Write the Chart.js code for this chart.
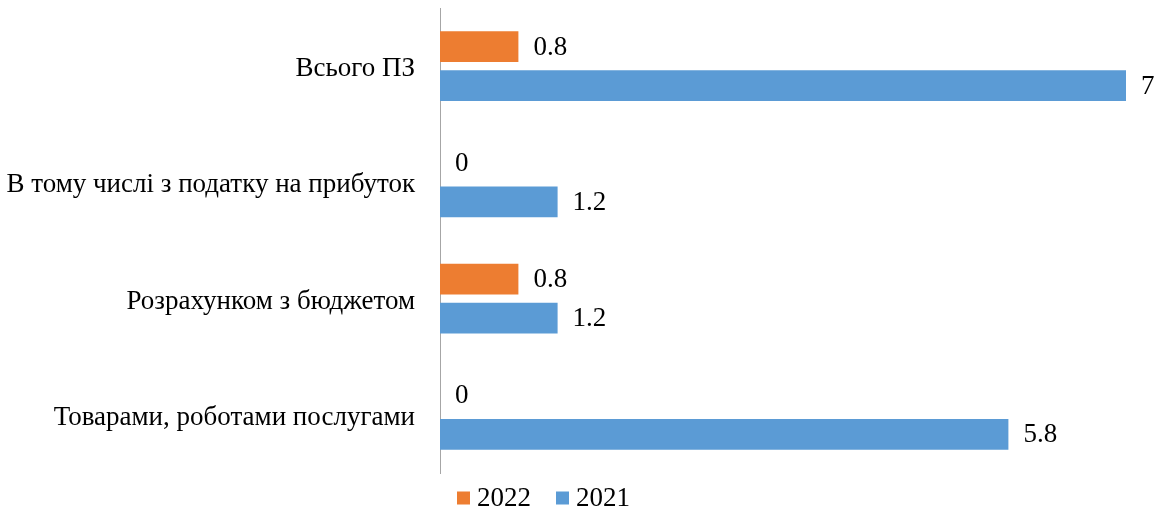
<!DOCTYPE html>
<html>
<head>
<meta charset="utf-8">
<script src="https://cdn.jsdelivr.net/npm/chart.js@4.4.0/dist/chart.umd.min.js"></script>
<style>
    html, body { margin: 0; padding: 0; background: #fff; }
    #wrap { width: 1164px; height: 515px; }
</style>
</head>
<body>
<div id="wrap"><canvas id="debtChart" width="1164" height="515"></canvas></div>
<script>
// Категорії та значення
const categories = [
    'Всього ПЗ',
    'В тому числі з податку на прибуток',
    'Розрахунком з бюджетом',
    'Товарами, роботами послугами'
];
const values2022 = [0.8, 0, 0.8, 0];
const values2021 = [7, 1.2, 1.2, 5.8];
const seriesLabels = ['2022', '2021'];

const FONT = "'Liberation Serif', 'Times New Roman', serif";
const FONT_SIZE = 27;

// підписи значень праворуч від смуг
const valueLabels = {
    id: 'valueLabels',
    afterDatasetsDraw(chart) {
        const ctx = chart.ctx;
        ctx.save();
        ctx.font = FONT_SIZE + 'px ' + FONT;
        ctx.fillStyle = '#000';
        ctx.textAlign = 'left';
        ctx.textBaseline = 'middle';
        chart.data.datasets.forEach((ds, i) => {
            chart.getDatasetMeta(i).data.forEach((bar, j) => {
                const x = chart.scales.x.getPixelForValue(ds.data[j]);
                ctx.fillText(String(ds.data[j]), x + 15, bar.y + 1);
            });
        });
        ctx.restore();
    }
};

// легенда внизу: квадратик + рік
const bottomLegend = {
    id: 'bottomLegend',
    afterDraw(chart) {
        const ctx = chart.ctx;
        const box = 13, gap = 7, spacing = 25;
        ctx.save();
        ctx.font = FONT_SIZE + 'px ' + FONT;
        ctx.textBaseline = 'middle';
        ctx.textAlign = 'left';
        let x = chart.chartArea.left + 17;
        const y = chart.chartArea.bottom + 25;
        chart.data.datasets.forEach(ds => {
            ctx.fillStyle = ds.backgroundColor;
            ctx.fillRect(x, y - box / 2, box, box);
            ctx.fillStyle = '#000';
            ctx.fillText(ds.label, x + box + gap, y + 1);
            x += box + gap + ctx.measureText(ds.label).width + spacing;
        });
        ctx.restore();
    }
};

new Chart(document.getElementById('debtChart').getContext('2d'), {
    type: 'bar',
    data: {
        labels: categories,
        datasets: [
            {
                label: seriesLabels[0],
                data: values2022,
                backgroundColor: '#ED7D31',
                barPercentage: 0.79,
                categoryPercentage: 0.67
            },
            {
                label: seriesLabels[1],
                data: values2021,
                backgroundColor: '#5B9BD5',
                barPercentage: 0.79,
                categoryPercentage: 0.67
            }
        ]
    },
    options: {
        indexAxis: 'y',
        responsive: false,
        animation: false,
        layout: { padding: { top: 8, right: 38, left: 0, bottom: 42 } },
        scales: {
            x: {
                display: false,
                min: 0,
                max: 7
            },
            y: {
                grid: { display: false },
                border: { display: true, color: '#a6a6a6', width: 1 },
                ticks: {
                    color: '#000',
                    font: { family: FONT, size: FONT_SIZE },
                    padding: 17,
                    labelOffset: 3
                },
                afterFit(scale) {
                    scale.width = 440;
                    scale.paddingTop = 0;
                    scale.paddingBottom = 0;
                }
            }
        },
        plugins: {
            legend: { display: false },
            tooltip: { enabled: false }
        }
    },
    plugins: [valueLabels, bottomLegend]
});
</script>
</body>
</html>
